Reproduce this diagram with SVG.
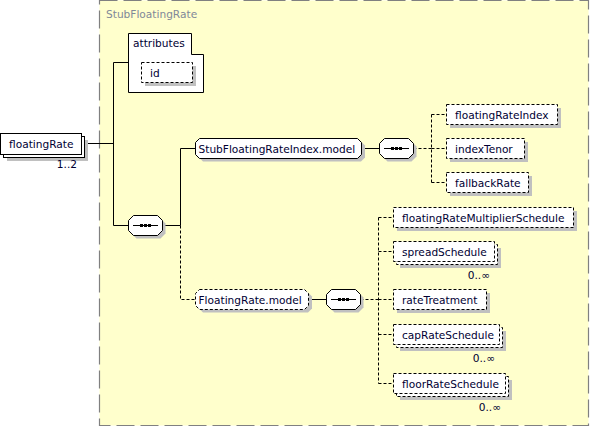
<svg xmlns="http://www.w3.org/2000/svg" width="591" height="427" viewBox="0 0 591 427">
<defs>
<style>
text{font-family:"DejaVu Sans","Liberation Sans",Arial,sans-serif;font-size:10.6px;fill:#000033}
.title{fill:#7f8899}
.occ{text-anchor:end}
.box{fill:#fff;stroke:#000;stroke-width:1}
.opt{fill:#fff;stroke:#000;stroke-width:1;stroke-dasharray:3,2}
.sh{fill:#c0c0c0;stroke:none}
.ln{fill:none;stroke:#000;stroke-width:1}
.dl{fill:none;stroke:#000;stroke-width:1;stroke-dasharray:3,2}
</style>
</defs>
<rect width="591" height="427" fill="#fff"/>
<g id="StubFloatingRate">
<rect x="99.5" y="0.5" width="489" height="425" fill="#ffffcc" stroke="#808080" stroke-width="1.2" stroke-dasharray="18,6"/>
<text class="title" x="106" y="18">StubFloatingRate</text>
</g>
<g id="connectors">
<path class="ln" d="M85,143.5H113.5M113.5,62.5V225.5M113.5,62.5H128.5M113.5,225.5H128.5M162.5,225.5H180.5M180.5,148.5V225.5M180.5,148.5H195.5M361.5,148.5H379.5M308.5,299.5H326.5"/>
<path class="dl" d="M180.5,225.5V299.5H195.5M413.5,148.5H431.5M431.5,114.5V182.5M431.5,114.5H446.5M431.5,148.5H446.5M431.5,182.5H446.5M360.5,299.5H378.5M378.5,217.5V383.5M378.5,217.5H393.5M378.5,251.5H393.5M378.5,299.5H393.5M378.5,334.5H393.5M378.5,383.5H393.5"/>
</g>
<g id="floatingRate">
<rect class="sh" x="7" y="140" width="81" height="21"/>
<rect class="box" x="3.5" y="136.5" width="81" height="21"/>
<rect class="box" x="0.5" y="133.5" width="81" height="21"/>
<text x="9" y="148">floatingRate</text>
<text class="occ" x="77" y="168">1..2</text>
</g>
<g id="attributes">
<polygon class="box" points="128.5,33.5 191.5,33.5 191.5,54.5 203.5,54.5 203.5,92.5 128.5,92.5"/>
<text x="133" y="47">attributes</text>
<rect class="sh" x="145" y="66" width="51" height="20"/>
<rect class="opt" x="141.5" y="62.5" width="51" height="20"/>
<text x="150" y="77">id</text>
</g>
<g id="seq1">
<polygon class="sh" points="136.5,218.5 160.5,218.5 165.5,223.5 165.5,233.5 160.5,238.5 136.5,238.5 131.5,233.5 131.5,223.5"/>
<polygon class="box" points="133.5,215.5 157.5,215.5 162.5,220.5 162.5,230.5 157.5,235.5 133.5,235.5 128.5,230.5 128.5,220.5"/>
<path class="ln" d="M133,225.5H158"/>
<rect x="140" y="224" width="3" height="3"/><rect x="144" y="224" width="3" height="3"/><rect x="148" y="224" width="3" height="3"/>
</g>
<g id="StubFloatingRateIndex.model">
<polygon class="sh" points="203,141.5 361,141.5 365,145.5 365,157.5 361,161.5 203,161.5 199,157.5 199,145.5"/>
<polygon class="box" points="199.5,138.5 357.5,138.5 361.5,142.5 361.5,154.5 357.5,158.5 199.5,158.5 195.5,154.5 195.5,142.5"/>
<text x="198.5" y="153">StubFloatingRateIndex.model</text>
</g>
<g id="seq2">
<polygon class="sh" points="387.5,141.5 411.5,141.5 416.5,146.5 416.5,156.5 411.5,161.5 387.5,161.5 382.5,156.5 382.5,146.5"/>
<polygon class="box" points="384.5,138.5 408.5,138.5 413.5,143.5 413.5,153.5 408.5,158.5 384.5,158.5 379.5,153.5 379.5,143.5"/>
<path class="ln" d="M384,148.5H409"/>
<rect x="391" y="147" width="3" height="3"/><rect x="395" y="147" width="3" height="3"/><rect x="399" y="147" width="3" height="3"/>
</g>
<g id="floatingRateIndex">
<rect class="sh" x="450" y="108" width="111" height="20"/>
<rect class="opt" x="446.5" y="104.5" width="111" height="20"/>
<text x="455" y="119">floatingRateIndex</text>
</g>
<g id="indexTenor">
<rect class="sh" x="450" y="142" width="78" height="20"/>
<rect class="opt" x="446.5" y="138.5" width="78" height="20"/>
<text x="455" y="153">indexTenor</text>
</g>
<g id="fallbackRate">
<rect class="sh" x="450" y="176" width="82" height="20"/>
<rect class="opt" x="446.5" y="172.5" width="82" height="20"/>
<text x="455" y="187">fallbackRate</text>
</g>
<g id="FloatingRate.model">
<polygon class="sh" points="203,292.5 308,292.5 312,296.5 312,308.5 308,312.5 203,312.5 199,308.5 199,296.5"/>
<polygon class="opt" points="199.5,289.5 304.5,289.5 308.5,293.5 308.5,305.5 304.5,309.5 199.5,309.5 195.5,305.5 195.5,293.5"/>
<text x="198.5" y="304">FloatingRate.model</text>
</g>
<g id="seq3">
<polygon class="sh" points="334.5,292.5 358.5,292.5 363.5,297.5 363.5,307.5 358.5,312.5 334.5,312.5 329.5,307.5 329.5,297.5"/>
<polygon class="box" points="331.5,289.5 355.5,289.5 360.5,294.5 360.5,304.5 355.5,309.5 331.5,309.5 326.5,304.5 326.5,294.5"/>
<path class="ln" d="M331,299.5H356"/>
<rect x="338" y="298" width="3" height="3"/><rect x="342" y="298" width="3" height="3"/><rect x="346" y="298" width="3" height="3"/>
</g>
<g id="floatingRateMultiplierSchedule">
<rect class="sh" x="397" y="211" width="180" height="20"/>
<rect class="opt" x="393.5" y="207.5" width="180" height="20"/>
<text x="402" y="222">floatingRateMultiplierSchedule</text>
</g>
<g id="spreadSchedule">
<rect class="sh" x="400" y="248" width="101" height="20"/>
<rect class="opt" x="396.5" y="244.5" width="101" height="20"/>
<rect class="opt" x="393.5" y="241.5" width="101" height="20"/>
<text x="402" y="256">spreadSchedule</text>
<text class="occ" x="490" y="279">0..∞</text>
</g>
<g id="rateTreatment">
<rect class="sh" x="397" y="293" width="93" height="20"/>
<rect class="opt" x="393.5" y="289.5" width="93" height="20"/>
<text x="402" y="304">rateTreatment</text>
</g>
<g id="capRateSchedule">
<rect class="sh" x="400" y="331" width="106" height="20"/>
<rect class="opt" x="396.5" y="327.5" width="106" height="20"/>
<rect class="opt" x="393.5" y="324.5" width="106" height="20"/>
<text x="402" y="339">capRateSchedule</text>
<text class="occ" x="495" y="362">0..∞</text>
</g>
<g id="floorRateSchedule">
<rect class="sh" x="400" y="380" width="112" height="20"/>
<rect class="opt" x="396.5" y="376.5" width="112" height="20"/>
<rect class="opt" x="393.5" y="373.5" width="112" height="20"/>
<text x="402" y="388">floorRateSchedule</text>
<text class="occ" x="501" y="411">0..∞</text>
</g>
</svg>
